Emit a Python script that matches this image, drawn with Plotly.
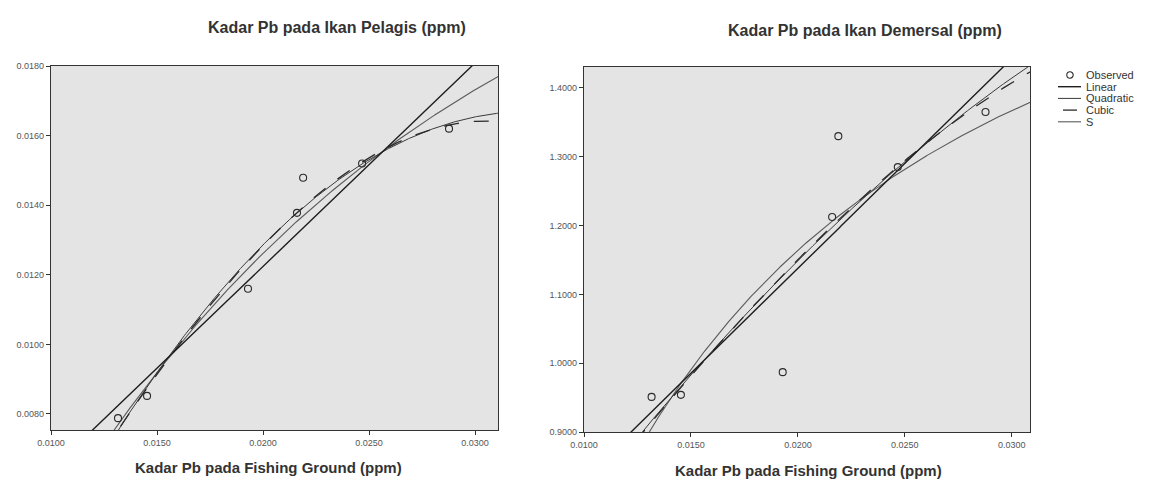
import numpy as np
import plotly.graph_objects as go

# ---- data ----
fishing_ground = [0.01316, 0.01453, 0.01929, 0.02160, 0.02189, 0.02467, 0.02877]
pelagis = [0.00788, 0.00852, 0.01160, 0.01378, 0.01479, 0.01520, 0.01620]
demersal = [0.951, 0.954, 0.987, 1.2125, 1.330, 1.285, 1.365]

x_ticks = [0.0100, 0.0150, 0.0200, 0.0250, 0.0300]
y_ticks_left = [0.0080, 0.0100, 0.0120, 0.0140, 0.0160, 0.0180]
y_ticks_right = [0.9, 1.0, 1.1, 1.2, 1.3, 1.4]

titles = ["Kadar Pb pada Ikan Pelagis (ppm)", "Kadar Pb pada Ikan Demersal (ppm)"]
x_title = "Kadar Pb pada Fishing Ground (ppm)"
legend_names = ["Observed", "Linear", "Quadratic", "Cubic", "S"]

x_range_left = [0.0100, 0.03108]
y_range_left = [0.00754, 0.01800]
x_range_right = [0.0100, 0.03085]
y_range_right = [0.9, 1.4305]

LINE = "#2a2a2a"
FONT = "Liberation Sans, Arial, sans-serif"

STYLES = {
    "Linear": dict(color="#1e1e1e", width=1.4),
    "Quadratic": dict(color="#3a3a3a", width=1.0),
    "Cubic": dict(color="#2a2a2a", width=1.3, dash="longdash"),
    "S": dict(color="#5a5a5a", width=1.1),
}


def fits(x, y, xr):
    x = np.asarray(x)
    y = np.asarray(y)
    g = np.linspace(xr[0] - 0.002, xr[1] + 0.002, 400)
    lin = np.polyval(np.polyfit(x, y, 1), g)
    quad = np.polyval(np.polyfit(x, y, 2), g)
    # cubic model with the x^2 term dropped (collinearity tolerance)
    A = np.column_stack([np.ones_like(x), x, x ** 3])
    c = np.linalg.lstsq(A, y, rcond=None)[0]
    cub = c[0] + c[1] * g + c[2] * g ** 3
    b1, b0 = np.polyfit(1.0 / x, np.log(y), 1)
    s = np.exp(b0 + b1 / g)
    return g, {"Linear": lin, "Quadratic": quad, "Cubic": cub, "S": s}


fig = go.Figure()

panels = [
    (fishing_ground, pelagis, x_range_left, "x", "y"),
    (fishing_ground, demersal, x_range_right, "x2", "y2"),
]
for xs, ys, xr, xa, ya in panels:
    g, curves = fits(xs, ys, xr)
    for name in ["S", "Quadratic", "Cubic", "Linear"]:
        fig.add_trace(go.Scatter(x=g, y=curves[name], mode="lines", name=name,
                                 line=STYLES[name], xaxis=xa, yaxis=ya,
                                 showlegend=False))
    fig.add_trace(go.Scatter(x=xs, y=ys, mode="markers", name="Observed",
                             marker=dict(symbol="circle-open", size=7, color=LINE,
                                         line=dict(width=1.1, color=LINE)),
                             xaxis=xa, yaxis=ya, showlegend=False))

W, H = 1152, 481
OFF = 8  # page body margin


def px(X):
    return (X - OFF) / W


def py(Y):
    return 1 - (Y - OFF) / H


def dx(p0, p1):
    return [px(p0), px(p1)]


def dy(top, bottom):
    return [py(bottom), py(top)]


axis_common = dict(showgrid=False, zeroline=False, showline=True, linecolor="#333333",
                   linewidth=1.2, mirror=True, ticks="outside", ticklen=4,
                   tickcolor="#333333", tickformat=".4f",
                   tickfont=dict(family=FONT, size=9, color="#555555"))

fig.update_layout(
    width=W, height=H,
    margin=dict(l=0, r=0, t=0, b=0, autoexpand=False),
    paper_bgcolor="white",
    plot_bgcolor="#e4e4e4",
    font=dict(family=FONT),
    xaxis=dict(domain=dx(51, 498), range=x_range_left, tickvals=x_ticks, anchor="y", **axis_common),
    yaxis=dict(domain=dy(66, 430), range=y_range_left, tickvals=y_ticks_left, anchor="x", **axis_common),
    xaxis2=dict(domain=dx(584, 1030), range=x_range_right, tickvals=x_ticks, anchor="y2", **axis_common),
    yaxis2=dict(domain=dy(67, 432), range=y_range_right, tickvals=y_ticks_right, anchor="x2", **axis_common),
    showlegend=False,
)

annotations = [
    dict(x=337, y=27, text="<b>" + titles[0] + "</b>", size=16),
    dict(x=865, y=30, text="<b>" + titles[1] + "</b>", size=16),
    dict(x=268, y=467, text="<b>" + x_title + "</b>", size=15),
    dict(x=808, y=470, text="<b>" + x_title + "</b>", size=15),
]
for a in annotations:
    fig.add_annotation(xref="paper", yref="paper", showarrow=False,
                       xanchor="center", yanchor="middle",
                       x=px(a["x"]), y=py(a["y"]), text=a["text"],
                       font=dict(family=FONT, size=a["size"], color="#333333"))

# ---- legend (drawn as a key box on the right) ----
leg_x0, leg_x1, leg_text = 1058, 1081, 1084
leg_y0, leg_dy = 75, 11.7
for i, name in enumerate(legend_names):
    yp = leg_y0 + i * leg_dy
    yy = py(yp)
    if name == "Observed":
        r = 3.2
        fig.add_shape(type="circle", xref="paper", yref="paper",
                      x0=px(1070 - r), x1=px(1070 + r),
                      y0=py(yp + r), y1=py(yp - r),
                      line=dict(color=LINE, width=1.1))
    elif name == "Cubic":
        fig.add_shape(type="line", xref="paper", yref="paper",
                      x0=px(1063), x1=px(1077), y0=yy, y1=yy,
                      line=dict(color=STYLES[name]["color"], width=1.3))
    else:
        fig.add_shape(type="line", xref="paper", yref="paper",
                      x0=px(leg_x0), x1=px(leg_x1), y0=yy, y1=yy,
                      line=dict(color=STYLES[name]["color"], width=STYLES[name]["width"]))
    fig.add_annotation(xref="paper", yref="paper", showarrow=False,
                       x=px(leg_text), y=yy, xanchor="left", yanchor="middle",
                       text=name, font=dict(family=FONT, size=11, color="#333333"))

fig.write_html("out.html")
